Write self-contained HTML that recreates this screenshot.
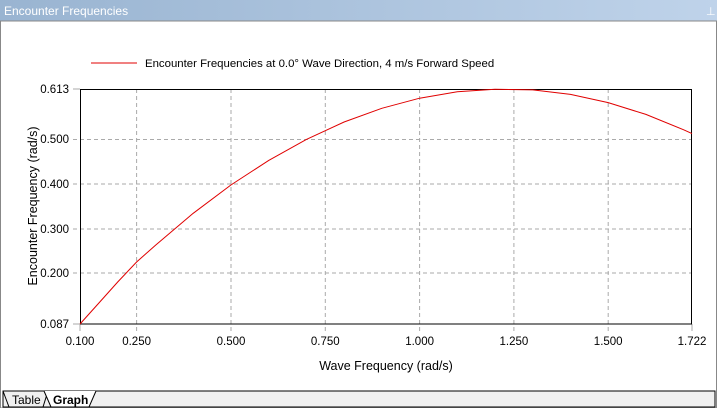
<!DOCTYPE html>
<html><head><style>
body{margin:0;width:717px;height:408px;overflow:hidden;background:#fff;font-family:"Liberation Sans",sans-serif}
</style></head><body>
<svg width="717" height="408" xmlns="http://www.w3.org/2000/svg" font-family="Liberation Sans, sans-serif">
<defs><linearGradient id="tb" x1="0" x2="1"><stop offset="0" stop-color="#99b4d1"/><stop offset="1" stop-color="#bfd3ea"/></linearGradient></defs>
<rect x="0" y="0" width="717" height="21" fill="url(#tb)"/>
<text x="4" y="15" font-size="12" fill="#fff">Encounter Frequencies</text>
<text x="706" y="15" font-size="11" fill="#fff">⊥</text>
<rect x="0.5" y="21" width="716" height="387" fill="#fff" stroke="#888"/>
<line x1="91" y1="63" x2="137" y2="63" stroke="#e00000" stroke-width="1"/>
<text x="145" y="67" font-size="11.4" fill="#000">Encounter Frequencies at 0.0° Wave Direction, 4 m/s Forward Speed</text>
<g stroke="#aaa" stroke-dasharray="4,3" stroke-width="1">
<line x1="136.6" y1="89" x2="136.6" y2="331"/><line x1="231" y1="89" x2="231" y2="331"/><line x1="325.3" y1="89" x2="325.3" y2="331"/><line x1="419.6" y1="89" x2="419.6" y2="331"/><line x1="513.9" y1="89" x2="513.9" y2="331"/><line x1="608.2" y1="89" x2="608.2" y2="331"/>
<line x1="73" y1="139.5" x2="692" y2="139.5"/><line x1="73" y1="184" x2="692" y2="184"/><line x1="73" y1="229" x2="692" y2="229"/><line x1="73" y1="273" x2="692" y2="273"/>
</g>
<g stroke="#aaa"><line x1="80" y1="324" x2="80" y2="331"/><line x1="692" y1="324" x2="692" y2="331"/><line x1="73" y1="89" x2="80" y2="89"/><line x1="73" y1="324" x2="80" y2="324"/></g>
<rect x="80.5" y="89.5" width="611" height="234.5" fill="none" stroke="#000"/>
<polyline fill="none" stroke="#e00000" stroke-width="1" points="80,324 98,304 117.7,282 136.6,262 155.5,245.2 193.2,213.3 230.9,185 268.7,160.4 306.4,139.4 344.1,122 381.8,108.3 419.6,98.2 457.3,91.8 495,89.3 532.8,89.9 570.5,94.4 608.2,102.6 645.9,114.4 683.7,129.8 692,133.6"/>
<g font-size="11.5" fill="#000" text-anchor="end">
<text x="69" y="93">0.613</text><text x="69" y="143">0.500</text><text x="69" y="188">0.400</text><text x="69" y="233">0.300</text><text x="69" y="277">0.200</text><text x="69" y="328">0.087</text>
</g>
<g font-size="11.5" fill="#000" text-anchor="middle">
<text x="80" y="345">0.100</text><text x="136.6" y="345">0.250</text><text x="231" y="345">0.500</text><text x="325.3" y="345">0.750</text><text x="419.6" y="345">1.000</text><text x="513.9" y="345">1.250</text><text x="608.2" y="345">1.500</text><text x="692" y="345">1.722</text>
</g>
<text x="386" y="370" font-size="12.5" text-anchor="middle">Wave Frequency (rad/s)</text>
<text transform="translate(37,206) rotate(-90)" font-size="12.5" text-anchor="middle">Encounter Frequency (rad/s)</text>
<rect x="3" y="391" width="712" height="16" fill="#f0f0f0" stroke="#000"/>
<path d="M3,391 L9,407 L43,407 L48,391" fill="none" stroke="#000"/>
<path d="M44,391 L51,407 L89,407 L96,391" fill="#fff" stroke="#000"/>
<text x="12" y="404" font-size="12">Table</text>
<text x="53" y="404" font-size="12" font-weight="bold">Graph</text>
</svg>
</body></html>
